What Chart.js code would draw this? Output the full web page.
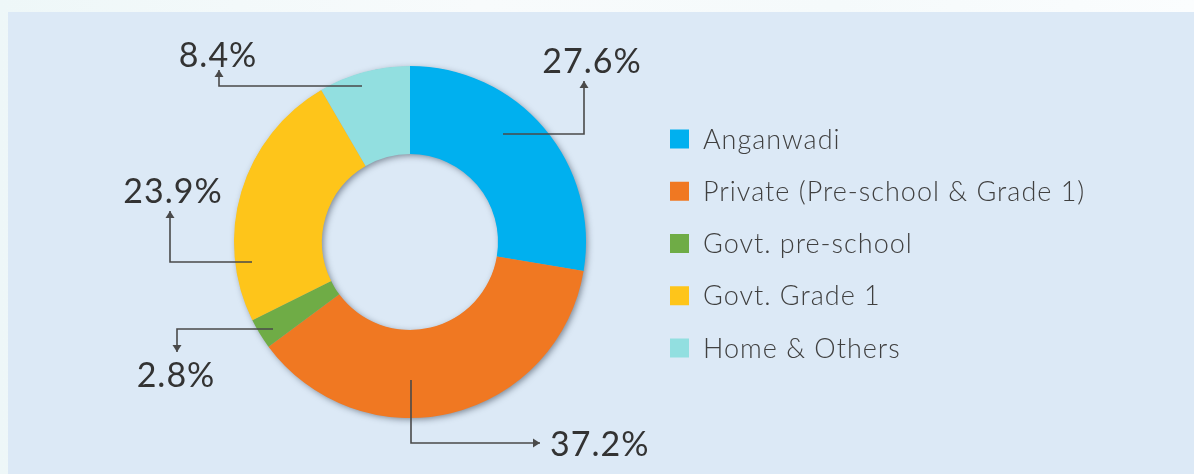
<!DOCTYPE html>
<html>
<head>
<meta charset="utf-8">
<script src="https://cdn.jsdelivr.net/npm/chart.js@4.4.1/dist/chart.umd.min.js"></script>
<style>
  html, body { margin: 0; padding: 0; }
  body {
    width: 1194px; height: 474px; overflow: hidden; position: relative;
    background: linear-gradient(90deg, #eef7f8 0%, #f8fbfc 40%, #f5fafb 70%, #fbfdfe 100%);
  }
  #panel {
    position: absolute; left: 8px; top: 12px; width: 1186px; height: 462px;
    background: #dce9f6;
  }
</style>
</head>
<body>
<div id="panel"><canvas id="myChart" width="1186" height="462"></canvas></div>
<script>
// categories and shares (%)
var categories = [
  'Anganwadi',
  'Private (Pre-school & Grade 1)',
  'Govt. pre-school',
  'Govt. Grade 1',
  'Home & Others'
];
var shares = [27.6, 37.2, 2.8, 23.9, 8.4];
var colors = ['#00b0ef', '#f07822', '#6fac46', '#fec51a', '#92dfe0'];

var inkColor = '#333333';

// leader lines, offsets from the donut centre: start, elbow, arrow tip; text anchor
var leaders = [
  { pts: [[93, -108], [174, -108], [174, -161]], text: [182, -169], align: 'center' },
  { pts: [[1, 138], [1, 201], [130, 201]], text: [140, 214], align: 'left' },
  { pts: [[-137, 87], [-233, 87], [-233, 110]], text: [-234, 145], align: 'center' },
  { pts: [[-158, 20], [-240, 20], [-240, -31]], text: [-237, -39], align: 'center' },
  { pts: [[-48, -156], [-191, -156], [-191, -172]], text: [-192, -175], align: 'center' }
];

// ring shadow drawn once under the slices
var ringShadow = {
  id: 'ringShadow',
  beforeDatasetsDraw(chart) {
    var arc = chart.getDatasetMeta(0).data[0];
    if (!arc) return;
    var ctx = chart.ctx;
    ctx.save();
    ctx.shadowColor = 'rgba(30, 40, 55, 0.5)';
    ctx.shadowBlur = 6;
    ctx.shadowOffsetX = 2;
    ctx.shadowOffsetY = 2;
    ctx.beginPath();
    ctx.arc(arc.x, arc.y, arc.outerRadius - 0.5, 0, Math.PI * 2);
    ctx.arc(arc.x, arc.y, arc.innerRadius + 0.5, 0, Math.PI * 2, true);
    ctx.fillStyle = '#9aa7b5';
    ctx.fill();
    ctx.restore();
  }
};

function arrowHead(ctx, from, to) {
  var ang = Math.atan2(to[1] - from[1], to[0] - from[0]);
  var len = 7, half = 4.5;
  ctx.beginPath();
  ctx.moveTo(to[0], to[1]);
  ctx.lineTo(to[0] - len * Math.cos(ang) + half * Math.sin(ang), to[1] - len * Math.sin(ang) - half * Math.cos(ang));
  ctx.lineTo(to[0] - len * Math.cos(ang) - half * Math.sin(ang), to[1] - len * Math.sin(ang) + half * Math.cos(ang));
  ctx.closePath();
  ctx.fill();
}

var callouts = {
  id: 'callouts',
  afterDatasetsDraw(chart) {
    var arc = chart.getDatasetMeta(0).data[0];
    var cx = arc.x, cy = arc.y;
    var ctx = chart.ctx;
    ctx.save();
    ctx.strokeStyle = '#4a4a4a';
    ctx.fillStyle = '#4a4a4a';
    ctx.lineWidth = 1.6;
    leaders.forEach(function (l, i) {
      var p = l.pts.map(function (q) { return [cx + q[0], cy + q[1]]; });
      ctx.beginPath();
      ctx.moveTo(p[0][0], p[0][1]);
      ctx.lineTo(p[1][0], p[1][1]);
      ctx.lineTo(p[2][0], p[2][1]);
      ctx.stroke();
      arrowHead(ctx, p[1], p[2]);
      ctx.save();
      ctx.fillStyle = inkColor;
      ctx.font = '34px Lato';
      ctx.letterSpacing = '1px';
      ctx.textAlign = l.align;
      ctx.textBaseline = 'alphabetic';
      ctx.fillText(shares[i].toFixed(1) + '%', cx + l.text[0], cy + l.text[1]);
      ctx.restore();
    });
    ctx.restore();
  }
};

// legend to the right of the donut
var sideLegend = {
  id: 'sideLegend',
  afterDraw(chart) {
    var ctx = chart.ctx;
    var arc = chart.getDatasetMeta(0).data[0];
    var x0 = arc.x + 260;
    var yTop = arc.y - 103;
    var gap = 52.25;
    ctx.save();
    ctx.font = '300 27px Lato';
    ctx.letterSpacing = '1px';
    ctx.textBaseline = 'middle';
    ctx.textAlign = 'left';
    categories.forEach(function (c, i) {
      var y = yTop + i * gap;
      ctx.fillStyle = colors[i];
      ctx.fillRect(x0, y - 9.5, 19, 19);
      ctx.fillStyle = '#404040';
      ctx.fillText(c, x0 + 33, y + 1);
    });
    ctx.restore();
  }
};

var myChart = new Chart(document.getElementById('myChart'), {
  type: 'doughnut',
  data: {
    labels: categories,
    datasets: [{
      data: shares,
      backgroundColor: colors,
      borderWidth: 0,
      hoverOffset: 0
    }]
  },
  options: {
    responsive: false,
    animation: false,
    cutout: '50%',
    layout: { padding: { left: 226, right: 608, top: 54, bottom: 56 } },
    plugins: {
      legend: { display: false },
      tooltip: { enabled: false }
    }
  },
  plugins: [ringShadow, callouts, sideLegend]
});
</script>
</body>
</html>
